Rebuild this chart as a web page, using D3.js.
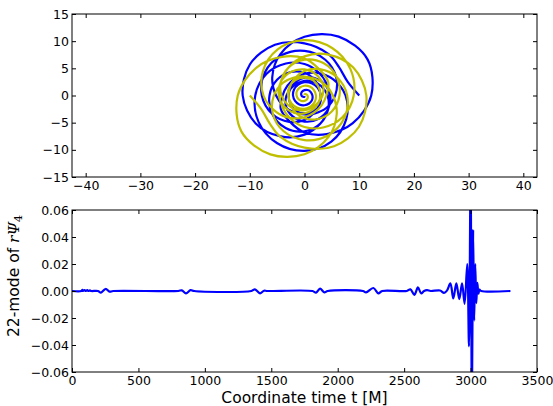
<!DOCTYPE html>
<html><head><meta charset="utf-8">
<script src="https://cdn.jsdelivr.net/npm/d3@7"></script>
<style>
html,body{margin:0;padding:0;background:#fff;}
svg{display:block;}
</style></head>
<body>
<svg id="chart" width="553" height="406"></svg>
<script>
// ---- data ----
const bh1x = [10, 7.9, 6.28, 4.4, 0, -5.4, -9.96, -11.3, -8.92, -4.35, 0, 2.95, 4.33, 4.6, 3.98, 2.5, 0, -3.4, -6.93, -9.0, -8.4, -5.05, 0, 4.9, 7.62, 7.5, 5.2, 2.4, 0, -1.8, -3.12, -4.0, -4.33, -2.75, 0, 4.1, 8.83, 12.2, 11.52, 6.25, 0, -4.4, -5.89, -5.2, -3.64, -1.8, 0, 1.9, 3.98, 5.6, 5.8, 3.8, 0, -4.25, -7.27, -7.8, -5.89, -2.8, 0, 1.8, 2.68, 2.9, 2.6, 1.75, 0, -2.5, -5.02, -6.4, -5.89, -3.45, 0, 2.95, 4.33, 4.2, 3.03, 1.5, 0, -1.3, -2.42, -3.3, -3.38, -2.2, 0, 2.5, 4.33, 4.7, 3.64, 1.85, 0, -1.5, -2.51, -2.9, -2.6, -1.6, 0, 1.65, 2.77, 3.0, 2.42, 1.3, 0, -1.15, -1.91, -2.1, -1.73, -0.95, 0, 0.85, 1.39, 1.45, 1.13, 0.58, 0, -0.43, -0.61, -0.55, -0.36, -0.15, 0, 0.06];
const bh1y = [0, 2.5, 5.27, 7.62, 9.6, 9.35, 5.75, 0, -5.15, -7.53, -7.2, -5.11, -2.5, 0, 2.3, 4.33, 5.8, 5.89, 4.0, 0, -4.85, -8.75, -10.2, -8.49, -4.4, 0, 3.0, 4.16, 4.0, 3.12, 1.8, 0, -2.5, -4.76, -6.8, -7.1, -5.1, 0, 6.65, 10.83, 10.8, 7.62, 3.4, 0, -2.1, -3.12, -3.5, -3.29, -2.3, 0, 3.35, 6.58, 8.2, 7.36, 4.2, 0, -3.4, -4.85, -4.5, -3.12, -1.55, 0, 1.5, 3.03, 4.2, 4.33, 2.9, 0, -3.4, -5.98, -6.6, -5.11, -2.5, 0, 1.75, 2.6, 2.7, 2.25, 1.4, 0, -1.95, -3.81, -4.8, -4.33, -2.5, 0, 2.1, 3.2, 3.3, 2.6, 1.45, 0, -1.5, -2.77, -3.3, -2.86, -1.6, 0, 1.4, 2.25, 2.45, 1.99, 1.1, 0, -1.0, -1.65, -1.8, -1.47, -0.8, 0, 0.65, 1.0, 1.0, 0.74, 0.35, 0, -0.21, -0.26, -0.2, -0.1];
const bh2x = [-10, -7.9, -6.28, -4.4, 0, 5.4, 9.96, 11.3, 8.92, 4.35, 0, -2.95, -4.33, -4.6, -3.98, -2.5, 0, 3.4, 6.93, 9.0, 8.4, 5.05, 0, -4.9, -7.62, -7.5, -5.2, -2.4, 0, 1.8, 3.12, 4.0, 4.33, 2.75, 0, -4.1, -8.83, -12.2, -11.52, -6.25, 0, 4.4, 5.89, 5.2, 3.64, 1.8, 0, -1.9, -3.98, -5.6, -5.8, -3.8, 0, 4.25, 7.27, 7.8, 5.89, 2.8, 0, -1.8, -2.68, -2.9, -2.6, -1.75, 0, 2.5, 5.02, 6.4, 5.89, 3.45, 0, -2.95, -4.33, -4.2, -3.03, -1.5, 0, 1.3, 2.42, 3.3, 3.38, 2.2, 0, -2.5, -4.33, -4.7, -3.64, -1.85, 0, 1.5, 2.51, 2.9, 2.6, 1.6, 0, -1.65, -2.77, -3.0, -2.42, -1.3, 0, 1.15, 1.91, 2.1, 1.73, 0.95, 0, -0.85, -1.39, -1.45, -1.13, -0.58, 0, 0.43, 0.61, 0.55, 0.36, 0.15, 0, -0.06];
const bh2y = [0, -2.5, -5.27, -7.62, -9.6, -9.35, -5.75, 0, 5.15, 7.53, 7.2, 5.11, 2.5, 0, -2.3, -4.33, -5.8, -5.89, -4.0, 0, 4.85, 8.75, 10.2, 8.49, 4.4, 0, -3.0, -4.16, -4.0, -3.12, -1.8, 0, 2.5, 4.76, 6.8, 7.1, 5.1, 0, -6.65, -10.83, -10.8, -7.62, -3.4, 0, 2.1, 3.12, 3.5, 3.29, 2.3, 0, -3.35, -6.58, -8.2, -7.36, -4.2, 0, 3.4, 4.85, 4.5, 3.12, 1.55, 0, -1.5, -3.03, -4.2, -4.33, -2.9, 0, 3.4, 5.98, 6.6, 5.11, 2.5, 0, -1.75, -2.6, -2.7, -2.25, -1.4, 0, 1.95, 3.81, 4.8, 4.33, 2.5, 0, -2.1, -3.2, -3.3, -2.6, -1.45, 0, 1.5, 2.77, 3.3, 2.86, 1.6, 0, -1.4, -2.25, -2.45, -1.99, -1.1, 0, 1.0, 1.65, 1.8, 1.47, 0.8, 0, -0.65, -1.0, -1.0, -0.74, -0.35, 0, 0.21, 0.26, 0.2, 0.1];

const waveT = [0, 70, 78, 84, 95, 102, 115, 122, 135, 145, 195, 218, 253, 283, 310, 800, 826, 858, 893, 920, 1350, 1377, 1415, 1445, 1470, 1810, 1837, 1867, 1899, 1925, 2190, 2213, 2268, 2306, 2335, 2520, 2547, 2577, 2604, 2628, 2650, 2672, 2700, 2770, 2800, 2822, 2848, 2870, 2893, 2915, 2936, 2955, 2975, 2988, 3000, 3010, 3019, 3027, 3035, 3043, 3051, 3059, 3067, 3080, 3300];
const waveV = [0, 0, 0.0008, 0, 0.0007, 0, 0.0006, 0, 0.0004, 0, 0, -0.0012, 0.0015, -0.0005, 0, 0, 0.0005, -0.0017, 0.0007, 0, 0, 0.0012, -0.0017, 0.0002, 0, 0, -0.0012, 0.0017, -0.001, 0, 0, -0.001, 0.0022, -0.0017, 0, 0, 0.0012, -0.0028, 0.0027, -0.0018, 0, 0.0006, 0, 0.0004, -0.0014, 0.0003, 0.0056, -0.0055, 0.0056, -0.006, 0.0056, -0.0095, 0.02, -0.041, 0.085, -0.09, 0.045, -0.022, 0.02, -0.009, 0.006, -0.002, 0.001, 0, 0];

const orbitXTicks = [-40, -30, -20, -10, 0, 10, 20, 30, 40];
const orbitYTicks = [-15, -10, -5, 0, 5, 10, 15];
const timeTicks = [0, 500, 1000, 1500, 2000, 2500, 3000, 3500];
const psiTicks = [-0.06, -0.04, -0.02, 0.00, 0.02, 0.04, 0.06];

// ---- layout ----
const svg = d3.select("#chart");
const L = 72, R = 537;
const top1 = 14, bot1 = 177, top2 = 210, bot2 = 372;
const FONT = "DejaVu Sans, sans-serif";
const minus = s => s.replace(/-/g, "\u2212");

const x1 = d3.scaleLinear().domain([-42.5, 42.5]).range([L, R]);
const y1 = d3.scaleLinear().domain([-15, 15]).range([bot1, top1]);
const x2 = d3.scaleLinear().domain([0, 3500]).range([L, R]);
const y2 = d3.scaleLinear().domain([-0.06, 0.06]).range([bot2, top2]);

const defs = svg.append("defs");
defs.append("clipPath").attr("id", "c1").append("rect").attr("x", L).attr("y", top1).attr("width", R - L).attr("height", bot1 - top1);
defs.append("clipPath").attr("id", "c2").append("rect").attr("x", L).attr("y", top2).attr("width", R - L).attr("height", bot2 - top2);

function axes(xs, ys, xt, yt, xfmt, yfmt, top, bot) {
  const tick = 4;
  const gb = svg.append("g").attr("transform", `translate(0,${bot})`)
    .call(d3.axisBottom(xs).tickValues(xt).tickSizeInner(-tick).tickSizeOuter(0).tickPadding(4).tickFormat(xfmt));
  const gt = svg.append("g").attr("transform", `translate(0,${top})`)
    .call(d3.axisTop(xs).tickValues(xt).tickSizeInner(-tick).tickSizeOuter(0).tickFormat(""));
  const gl = svg.append("g").attr("transform", `translate(${L},0)`)
    .call(d3.axisLeft(ys).tickValues(yt).tickSizeInner(-tick).tickSizeOuter(0).tickPadding(3).tickFormat(yfmt));
  const gr = svg.append("g").attr("transform", `translate(${R},0)`)
    .call(d3.axisRight(ys).tickValues(yt).tickSizeInner(-tick).tickSizeOuter(0).tickFormat(""));
  [gb, gt, gl, gr].forEach(g => {
    g.select(".domain").remove();
    g.selectAll(".tick line").attr("stroke", "#000").attr("stroke-width", 1);
    g.selectAll("text").attr("font-family", FONT).attr("font-size", 12.5).attr("fill", "#000");
  });
  svg.append("rect").attr("x", L).attr("y", top).attr("width", R - L).attr("height", bot - top)
    .attr("fill", "none").attr("stroke", "#000").attr("stroke-width", 1);
}

// ---- top panel: orbits ----
const idx = d3.range(bh1x.length);
const orbitLine = (X, Y) => d3.line().x(i => x1(X[i])).y(i => y1(Y[i])).curve(d3.curveCatmullRom.alpha(0.5));
const gOrb = svg.append("g").attr("clip-path", "url(#c1)");
gOrb.append("path").attr("d", orbitLine(bh1x, bh1y)(idx)).attr("fill", "none").attr("stroke", "#0000ff").attr("stroke-width", 2.2).attr("stroke-linejoin", "round");
gOrb.append("path").attr("d", orbitLine(bh2x, bh2y)(idx)).attr("fill", "none").attr("stroke", "#bfbf00").attr("stroke-width", 2.2).attr("stroke-linejoin", "round");
axes(x1, y1, orbitXTicks, orbitYTicks, d => minus(String(d)), d => minus(String(d)), top1, bot1);

// ---- bottom panel: waveform ----
const widx = d3.range(waveT.length);
const waveLine = d3.line().x(i => x2(waveT[i])).y(i => y2(waveV[i])).curve(d3.curveCatmullRom.alpha(0.5));
svg.append("g").attr("clip-path", "url(#c2)").append("path").attr("d", waveLine(widx))
  .attr("fill", "none").attr("stroke", "#0000ff").attr("stroke-width", 2.2).attr("stroke-linejoin", "round");
axes(x2, y2, timeTicks, psiTicks, d => String(d), d => minus(d3.format(".2f")(d)), top2, bot2);

// labels
svg.append("text").attr("x", (L + R) / 2).attr("y", 403).attr("text-anchor", "middle")
  .attr("font-family", FONT).attr("font-size", 15.5).attr("fill", "#000").text("Coordinate time t [M]");
const yl = svg.append("text").attr("transform", `translate(19,276) rotate(-90)`)
  .attr("text-anchor", "middle").attr("font-family", FONT).attr("font-size", 15.5).attr("fill", "#000");
yl.append("tspan").text("22-mode of ");
yl.append("tspan").attr("font-family", "DejaVu Serif, serif").attr("font-style", "italic").text("r\u03A8");
yl.append("tspan").attr("font-family", "DejaVu Serif, serif").attr("font-size", 11).attr("dy", 3).text("4");
</script>
</body></html>
